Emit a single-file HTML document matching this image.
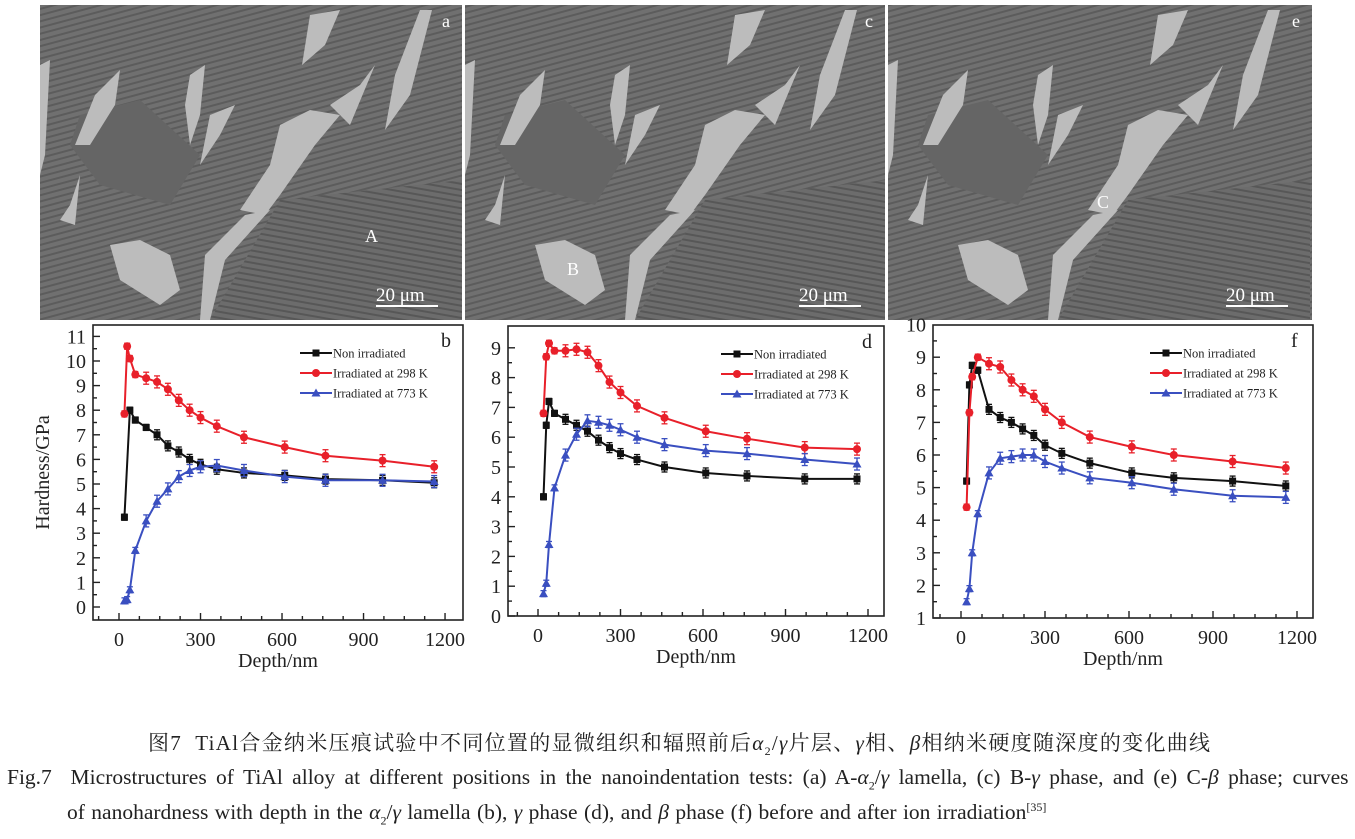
<!DOCTYPE html>
<html><head><meta charset="utf-8">
<style>
html,body{margin:0;padding:0;background:#fff;}
body{width:1355px;height:839px;position:relative;overflow:hidden;font-family:"Liberation Serif","Noto Serif CJK SC",serif;}
.cap{position:absolute;font-family:"Liberation Serif","Noto Serif CJK SC",serif;color:#222;white-space:nowrap;}
</style></head>
<body>
<svg id="s" width="1355" height="700" style="position:absolute;left:0;top:0" xmlns="http://www.w3.org/2000/svg"></svg>
<div class="cap" style="left:148px;top:727px;font-size:21px;letter-spacing:1.3px;">图7&nbsp; TiAl合金纳米压痕试验中不同位置的显微组织和辐照前后<i>α</i><sub style="font-size:12px">2</sub>/<i>γ</i>片层、<i>γ</i>相、<i>β</i>相纳米硬度随深度的变化曲线</div>
<div class="cap" style="left:7px;top:765px;font-size:21.5px;word-spacing:4px;">Fig.7&nbsp; Microstructures of TiAl alloy at different positions in the nanoindentation tests: (a) A-<i>α</i><sub style="font-size:12px">2</sub>/<i>γ</i> lamella, (c) B-<i>γ</i> phase, and (e) C-<i>β</i> phase; curves</div>
<div class="cap" style="left:67px;top:800px;font-size:21.5px;word-spacing:1px;">of nanohardness with depth in the <i>α</i><sub style="font-size:12px">2</sub>/<i>γ</i> lamella (b), <i>γ</i> phase (d), and <i>β</i> phase (f) before and after ion irradiation<sup style="font-size:12px">[35]</sup></div>
<script>
const S=document.getElementById('s');let h='';
const imgs=[[40,5,422,'a','A',365,237],[465,5,420,'c','B',567,270],[888,5,424,'e','C',1097,203]];
imgs.forEach(([x,y,w,l,p,px,py])=>{
 const H=315;
 h+=`<defs><pattern id="st${l}" width="6" height="6" patternUnits="userSpaceOnUse" patternTransform="rotate(75)"><rect width="6" height="6" fill="#707070"/><rect width="2" height="6" fill="#5c5c5c"/></pattern>
 <pattern id="sh${l}" width="6" height="6" patternUnits="userSpaceOnUse" patternTransform="rotate(10)"><rect width="6" height="6" fill="#6c6c6c"/><rect width="6" height="2" fill="#575757"/></pattern>
 <clipPath id="c${l}"><rect x="${x}" y="${y}" width="${w}" height="${H}"/></clipPath></defs>`;
 h+=`<g clip-path="url(#c${l})"><rect x="${x}" y="${y}" width="${w}" height="${H}" fill="url(#st${l})"/>`;
 h+=`<polygon transform="translate(${x},${y})" points="240,195 422,175 422,315 170,315" fill="url(#sh${l})"/>`;
 h+=`<polygon transform="translate(${x},${y})" points="40,110 100,95 160,150 130,200 60,180 30,140" fill="#656565"/>`;
 const L='#bcbcbc';
 h+=`<g transform="translate(${x},${y})" fill="${L}">
 <polygon points="270,10 300,5 285,40 262,60"/>
 <polygon points="380,5 392,5 370,90 345,125 355,70"/>
 <polygon points="320,80 335,60 310,120 290,100"/>
 <polygon points="240,120 270,105 300,110 275,140 240,190 225,210 200,205 230,160"/>
 <polygon points="205,210 230,205 185,255 170,315 160,315 165,250"/>
 <polygon points="55,90 80,65 75,100 50,140 35,140"/>
 <polygon points="150,70 165,60 160,110 150,140 145,100"/>
 <polygon points="170,110 195,100 180,130 160,160"/>
 <polygon points="70,240 100,235 130,250 140,285 120,300 80,275"/>
 <polygon points="30,200 40,170 35,220 20,215"/>
 <polygon points="0,60 10,55 5,150 0,170"/>
 </g></g>`;
 h+=`<text x="${x+w-20}" y="${y+22}" font-size="18" fill="#fff" font-family="Liberation Serif">${l}</text>`;
 h+=`<text x="${px}" y="${py+5}" font-size="18" fill="#fff" font-family="Liberation Serif">${p}</text>`;
 h+=`<text x="${x+w-86}" y="${y+296}" font-size="19" fill="#fff" font-family="Liberation Serif">20 μm</text>`;
 h+=`<rect x="${x+w-86}" y="${y+300}" width="62" height="2" fill="#fff"/>`;
});
const X=[20,30,40,60,100,140,180,220,260,300,360,460,610,760,970,1160];
const charts=[
 {L:93,R:463,T:325,B:620,x0:119,xs:0.2717,y0:607,ys:24.6,ymin:0,ymax:11,lab:'b',ytitle:true,
  k:[[20,3.65],[40,8.0],[60,7.6],[100,7.3],[140,7.0],[180,6.55],[220,6.3],[260,6.0],[300,5.8],[360,5.6],[460,5.45],[610,5.35],[760,5.2],[970,5.15],[1160,5.05]],
  r:[7.85,10.6,10.1,9.45,9.3,9.15,8.85,8.4,8.0,7.7,7.35,6.9,6.5,6.15,5.95,5.7],
  b:[0.25,0.3,0.7,2.3,3.5,4.3,4.8,5.3,5.55,5.7,5.75,5.55,5.3,5.15,5.15,5.1]},
 {L:508,R:884,T:326,B:616,x0:538,xs:0.275,y0:616,ys:29.8,ymin:0,ymax:9,lab:'d',
  k:X.map((x,i)=>[x,[4.0,6.4,7.2,6.8,6.6,6.4,6.2,5.9,5.65,5.45,5.25,5.0,4.8,4.7,4.6,4.6][i]]),
  r:[6.8,8.7,9.15,8.9,8.9,8.95,8.85,8.4,7.85,7.5,7.05,6.65,6.2,5.95,5.65,5.6],
  b:[0.75,1.1,2.4,4.3,5.4,6.1,6.55,6.5,6.4,6.25,6.0,5.75,5.55,5.45,5.25,5.1]},
 {L:933,R:1313,T:325,B:618,x0:961,xs:0.28,y0:618+32.6,ys:32.6,ymin:1,ymax:10,lab:'f',
  k:X.map((x,i)=>[x,[5.2,8.15,8.75,8.6,7.4,7.15,7.0,6.8,6.6,6.3,6.05,5.75,5.45,5.3,5.2,5.05][i]]),
  r:[4.4,7.3,8.4,9.0,8.8,8.7,8.3,8.0,7.8,7.4,7.0,6.55,6.25,6.0,5.8,5.6],
  b:[1.5,1.9,3.0,4.2,5.45,5.9,5.95,6.0,6.0,5.8,5.6,5.3,5.15,4.95,4.75,4.7]}
];
charts.forEach(c=>{
 const px=x=>c.x0+x*c.xs, py=v=>c.y0-v*c.ys;
 h+=`<rect x="${c.L}" y="${c.T}" width="${c.R-c.L}" height="${c.B-c.T}" fill="none" stroke="#222" stroke-width="1.6"/>`;
 for(let x=-75;x<=1275;x+=75){const X1=px(x);if(X1<c.L||X1>c.R)continue;const mj=x%300==0;
  h+=`<line x1="${X1}" x2="${X1}" y1="${c.B}" y2="${c.B-(mj?7:4)}" stroke="#222" stroke-width="1.4"/>`;
  if(mj&&x>=0)h+=`<text x="${X1}" y="${c.B+26}" font-size="20" text-anchor="middle" fill="#222">${x}</text>`;}
 for(let v=c.ymin;v<=c.ymax;v+=0.5){const Y=py(v);if(Y>c.B+0.5||Y<c.T)continue;const mj=v%1==0;
  h+=`<line x1="${c.L}" x2="${c.L+(mj?7:4)}" y1="${Y}" y2="${Y}" stroke="#222" stroke-width="1.4"/>`;}
 for(let v=c.ymin;v<=c.ymax;v++){h+=`<text x="${c.L-7}" y="${py(v)+7}" font-size="20" text-anchor="end" fill="#222">${v}</text>`;}
 h+=`<text x="${(c.L+c.R)/2}" y="${c.B+47}" font-size="20" text-anchor="middle" fill="#222">Depth/nm</text>`;
 if(c.ytitle)h+=`<text transform="translate(49,${(c.T+c.B)/2}) rotate(-90)" font-size="20" text-anchor="middle" fill="#222">Hardness/GPa</text>`;
 h+=`<text x="${c.R-22}" y="${c.T+22}" font-size="20" fill="#222">${c.lab}</text>`;
 const ser=[[c.k,'#111','s'],[X.map((x,i)=>[x,c.r[i]]),'#e8202a','c'],[X.map((x,i)=>[x,c.b[i]]),'#3a4fc0','t']];
 ser.forEach(([d,col,m],si)=>{
  h+=`<polyline fill="none" stroke="${col}" stroke-width="2" points="${d.map(p=>px(p[0])+','+py(p[1])).join(' ')}"/>`;
  d.forEach(([x,v],i)=>{const X1=px(x),Y=py(v);const e=i>3?(si==0?5:6):3;
   h+=`<line x1="${X1}" x2="${X1}" y1="${Y-e}" y2="${Y+e}" stroke="${col}" stroke-width="1.3"/><line x1="${X1-3}" x2="${X1+3}" y1="${Y-e}" y2="${Y-e}" stroke="${col}" stroke-width="1.3"/><line x1="${X1-3}" x2="${X1+3}" y1="${Y+e}" y2="${Y+e}" stroke="${col}" stroke-width="1.3"/>`;
   if(m=='s')h+=`<rect x="${X1-3.5}" y="${Y-3.5}" width="7" height="7" fill="${col}"/>`;
   else if(m=='c')h+=`<circle cx="${X1}" cy="${Y}" r="4" fill="${col}"/>`;
   else h+=`<polygon points="${X1},${Y-4.5} ${X1-4.5},${Y+3.5} ${X1+4.5},${Y+3.5}" fill="${col}"/>`;});
 });
 const lx=c.R-163, ly=c.T+28;
 const names=['Non irradiated','Irradiated at 298 K','Irradiated at 773 K'];
 ser.forEach(([d,col,m],i)=>{const Y=ly+i*20;
  h+=`<line x1="${lx}" x2="${lx+32}" y1="${Y}" y2="${Y}" stroke="${col}" stroke-width="2"/>`;
  const X1=lx+16;
  if(m=='s')h+=`<rect x="${X1-3.5}" y="${Y-3.5}" width="7" height="7" fill="${col}"/>`;
  else if(m=='c')h+=`<circle cx="${X1}" cy="${Y}" r="4" fill="${col}"/>`;
  else h+=`<polygon points="${X1},${Y-4.5} ${X1-4.5},${Y+3.5} ${X1+4.5},${Y+3.5}" fill="${col}"/>`;
  h+=`<text x="${lx+33}" y="${Y+4.5}" font-size="12.5" fill="#222">${names[i]}</text>`;});
});
S.innerHTML=h;
</script>
</body></html>
